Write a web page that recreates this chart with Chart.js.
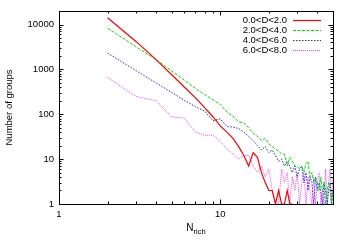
<!DOCTYPE html>
<html>
<head>
<meta charset="utf-8">
<script src="https://cdn.jsdelivr.net/npm/chart.js@4.4.0/dist/chart.umd.min.js"></script>
<style>
html, body { margin: 0; padding: 0; background: #fff; }
#wrap { width: 350px; height: 245px; }
</style>
</head>
<body>
<div id="wrap"><canvas id="groups"></canvas></div>
<script>
// richness bins 2..50
const nRich = [2, 3, 4, 5, 6, 7, 8, 9, 10, 11, 12, 13, 14, 15, 16, 17, 18, 19, 20,
    21, 22, 23, 24, 25, 26, 27, 28, 29, 30, 31, 32, 33, 34, 35, 36, 37, 38, 39, 40,
    41, 42, 43, 44, 45, 46, 47, 48, 49, 50];

const groupsD0 = [14100, 4200, 1650, 760, 400, 235, 140, 88, 55, 40, 29, 19, 12, 7, 14, 11, 5, 3, 2,
    2, 1, 2, 1, 1, 2, 1, 1, null, null, null, null, null, null, null, null, null, null, null, null,
    null, null, null, null, null, null, null, null, null, null];
const groupsD2 = [8300, 3200, 1650, 920, 570, 380, 275, 210, 165, 112, 90, 68, 64, 50, 38, 32, 26, 29, 22,
    19, 17, 15, 13, 13, 7, 11, 9, 7, 7, 6, 7, 5, 8, 9, 4, 5, 3, 4, 3,
    2, 4, 2, 3, 1, 2, 3, 2, 1, 2];
const groupsD4 = [2310, 940, 500, 305, 204, 148, 118, 72, 79, 53, 52, 48, 40, 32, 26, 20, 16, 19, 14,
    16, 12, 9, 10, 7, 9, 7, 5, 7, 4, 6, 7, 3, 5, 2, 4, 3, 1, 4, 2,
    3, 2, 1, 3, 2, 1, 2, 3, 1, 2];
const groupsD6 = [664, 250, 200, 87, 82, 40, 34, 34, 25, 17, 13, 10, 12, 12, 7, 5, 7, 4, 6,
    2, 1, 1, 6, 3, 5, 1, 4, 2, 5, 1, 3, 5, 1, 4, 2, 1, 4, 1, 3,
    5, 1, 2, 1, 6, 1, 3, 6, 1, 4];

const seriesNames = ['0.0<D<2.0', '2.0<D<4.0', '4.0<D<6.0', '6.0<D<8.0'];
const xTickValues = [1, 10];
const yTickValues = [1, 10, 100, 1000, 10000];

const FONT = '"Liberation Sans", Arial, Helvetica, sans-serif';

function points(vals) {
    return nRich.map((n, i) => ({ x: n, y: vals[i] }));
}

// minor tick values for the log axes
let xMinor = [];
for (let m = 2; m <= 9; m++) xMinor.push(m);
for (let m = 2; m <= 4; m++) xMinor.push(m * 10);
let yMinor = [];
for (let d = 1; d <= 10000; d *= 10) {
    for (let m = 2; m <= 9; m++) {
        if (d * m < 20000) yMinor.push(d * m);
    }
}

const gnuFrame = {
    id: 'gnuFrame',
    afterDatasetsDraw(chart) {
        const ctx = chart.ctx;
        const a = chart.chartArea;
        const xs = chart.scales.x;
        const ys = chart.scales.y;
        ctx.save();
        ctx.strokeStyle = '#000';
        ctx.lineWidth = 1;
        ctx.strokeRect(Math.round(a.left) + 0.5, Math.round(a.top) + 0.5,
            Math.round(a.right - a.left), Math.round(a.bottom - a.top));

        function xTick(v, len) {
            const px = Math.round(xs.getPixelForValue(v)) + 0.5;
            ctx.beginPath();
            ctx.moveTo(px, a.bottom);
            ctx.lineTo(px, a.bottom - len);
            ctx.moveTo(px, a.top);
            ctx.lineTo(px, a.top + len);
            ctx.stroke();
        }
        function yTick(v, len) {
            const py = Math.round(ys.getPixelForValue(v)) + 0.5;
            ctx.beginPath();
            ctx.moveTo(a.left, py);
            ctx.lineTo(a.left + len, py);
            ctx.moveTo(a.right, py);
            ctx.lineTo(a.right - len, py);
            ctx.stroke();
        }
        xTickValues.forEach(v => xTick(v, 4.5));
        xMinor.forEach(v => xTick(v, 2.5));
        yTickValues.forEach(v => yTick(v, 4.5));
        yMinor.forEach(v => yTick(v, 2.5));

        // axis titles
        ctx.fillStyle = '#000';
        ctx.font = '9.5px ' + FONT;
        ctx.textAlign = 'center';
        ctx.textBaseline = 'middle';
        ctx.save();
        ctx.translate(9, (a.top + a.bottom) / 2);
        ctx.rotate(-Math.PI / 2);
        ctx.fillText('Number of groups', 0, 0);
        ctx.restore();

        const cx = (a.left + a.right) / 2;
        ctx.font = '10px ' + FONT;
        const wN = ctx.measureText('N').width;
        ctx.font = '7.5px ' + FONT;
        const wSub = ctx.measureText('rich').width;
        const x0 = cx - (wN + wSub) / 2;
        ctx.textAlign = 'left';
        ctx.textBaseline = 'alphabetic';
        ctx.font = '10px ' + FONT;
        ctx.fillText('N', x0, 231);
        ctx.font = '7.5px ' + FONT;
        ctx.fillText('rich', x0 + wN, 234);

        // legend, gnuplot style: text then line sample
        ctx.font = '9.5px ' + FONT;
        chart.data.datasets.forEach((ds, i) => {
            const y = 20.5 + i * 10;
            ctx.fillStyle = '#000';
            ctx.textAlign = 'right';
            ctx.textBaseline = 'middle';
            ctx.fillText(ds.label, 287, y);
            ctx.strokeStyle = ds.borderColor;
            ctx.lineWidth = ds.borderWidth;
            ctx.setLineDash(ds.borderDash || []);
            ctx.beginPath();
            ctx.moveTo(293, y);
            ctx.lineTo(321, y);
            ctx.stroke();
            ctx.setLineDash([]);
        });
        ctx.restore();
    }
};

const ctx = document.getElementById('groups');
const groupsChart = new Chart(ctx, {
    type: 'line',
    data: {
        datasets: [
            { label: seriesNames[0], data: points(groupsD0), borderColor: '#ff0000', borderWidth: 1.2, borderDash: [] },
            { label: seriesNames[1], data: points(groupsD2), borderColor: '#00e000', borderWidth: 1, borderDash: [3, 1.5] },
            { label: seriesNames[2], data: points(groupsD4), borderColor: '#2020ff', borderWidth: 1, borderDash: [1.5, 1.5] },
            { label: seriesNames[3], data: points(groupsD6), borderColor: '#ff40ff', borderWidth: 1, borderDash: [1, 1] }
        ]
    },
    options: {
        responsive: true,
        maintainAspectRatio: false,
        animation: false,
        devicePixelRatio: 1,
        elements: {
            point: { radius: 0 },
            line: { tension: 0, fill: false }
        },
        spanGaps: false,
        layout: { padding: { top: 11, right: 17, left: 0, bottom: 0 } },
        plugins: {
            legend: { display: false },
            tooltip: { enabled: false }
        },
        scales: {
            x: {
                type: 'logarithmic',
                min: 1,
                max: 50,
                grid: { display: false, drawTicks: false },
                border: { display: false },
                afterBuildTicks: (s) => { s.ticks = xTickValues.map(v => ({ value: v })); },
                afterFit: (s) => { s.height = 41; },
                ticks: {
                    autoSkip: false,
                    maxRotation: 0,
                    padding: 5,
                    color: '#000',
                    font: { family: FONT, size: 9.5 },
                    callback: (v) => String(v)
                }
            },
            y: {
                type: 'logarithmic',
                min: 1,
                max: 20000,
                grid: { display: false, drawTicks: false },
                border: { display: false },
                afterBuildTicks: (s) => { s.ticks = yTickValues.map(v => ({ value: v })); },
                afterFit: (s) => { s.width = 59; },
                ticks: {
                    autoSkip: false,
                    padding: 5,
                    color: '#000',
                    font: { family: FONT, size: 9.5 },
                    callback: (v) => String(v)
                }
            }
        }
    },
    plugins: [gnuFrame]
});
</script>
</body>
</html>
